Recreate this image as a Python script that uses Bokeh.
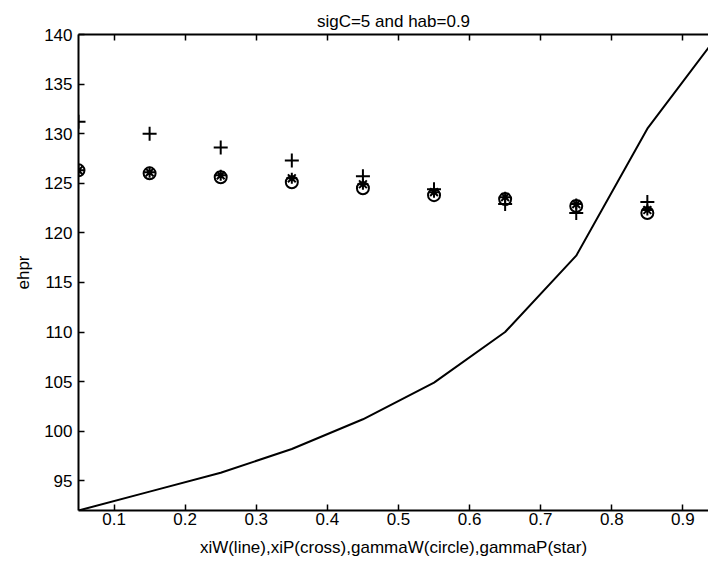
from bokeh.plotting import figure
from bokeh.models import Range1d, LinearAxis, FixedTicker, CustomJSTickFormatter
from bokeh.embed import file_html
from bokeh.resources import INLINE

# data
x_line = [0.05, 0.15, 0.25, 0.35, 0.45, 0.55, 0.65, 0.75, 0.85, 0.95]
xiW = [92.0, 93.9, 95.8, 98.2, 101.2, 104.9, 110.0, 117.7, 130.5, 140.0]
x_pts = [0.05, 0.15, 0.25, 0.35, 0.45, 0.55, 0.65, 0.75, 0.85]
xiP = [131.2, 130.0, 128.6, 127.3, 125.7, 124.4, 122.9, 122.0, 123.1]
gammaW = [126.3, 126.0, 125.6, 125.1, 124.5, 123.8, 123.4, 122.7, 122.0]
gammaP = [126.3, 126.1, 125.8, 125.5, 124.9, 124.1, 123.6, 122.9, 122.3]
x_ticks = [0.1, 0.2, 0.3, 0.4, 0.5, 0.6, 0.7, 0.8, 0.9]
y_ticks = [95, 100, 105, 110, 115, 120, 125, 130, 135, 140]

FONT = "Liberation Sans"
FS = "17px"

p = figure(width=708, height=563, output_backend="svg", toolbar_location=None,
           x_range=Range1d(0.05, 0.936), y_range=Range1d(92, 140),
           title="sigC=5 and hab=0.9",
           min_border_left=78, min_border_right=0, min_border_top=34, min_border_bottom=53)
p.outline_line_color = None
p.grid.visible = False
p.background_fill_color = "white"
p.border_fill_color = "white"

p.title.align = "center"
p.title.vertical_align = "top"
p.title.text_font = FONT
p.title.text_font_size = FS
p.title.text_font_style = "normal"
p.title.text_color = "black"
p.title.standoff = 4

for ax, ticks in ((p.xaxis[0], x_ticks), (p.yaxis[0], y_ticks)):
    ax.ticker = FixedTicker(ticks=ticks)
    ax.major_tick_in = 6
    ax.major_tick_out = 0
    ax.minor_tick_in = 0
    ax.minor_tick_out = 0
    ax.axis_line_width = 2
    ax.axis_line_color = "black"
    ax.major_tick_line_width = 1.5
    ax.major_tick_line_color = "black"
    ax.major_label_text_font = FONT
    ax.major_label_text_font_size = FS
    ax.major_label_text_color = "black"
    ax.axis_label_text_font = FONT
    ax.axis_label_text_font_size = FS
    ax.axis_label_text_font_style = "normal"
    ax.axis_label_text_color = "black"

p.xaxis.major_label_standoff = 2
p.yaxis.major_label_standoff = 6
p.xaxis.axis_label = "xiW(line),xiP(cross),gammaW(circle),gammaP(star)"
p.yaxis.axis_label = "ehpr"
p.xaxis.axis_label_standoff = 10
p.yaxis.axis_label_standoff = 8

top = LinearAxis(ticker=FixedTicker(ticks=x_ticks),
                 formatter=CustomJSTickFormatter(code="return ''"))
top.major_tick_in = 6
top.major_tick_out = 0
top.minor_tick_in = 0
top.minor_tick_out = 0
top.axis_line_width = 2
top.axis_line_color = "black"
top.major_tick_line_width = 1.5
top.major_tick_line_color = "black"
top.major_label_standoff = 0
p.add_layout(top, "above")

p.line(x_line, xiW, line_color="black", line_width=2)
p.scatter(x_pts, xiP, marker="cross", size=14, line_color="black", line_width=2)
p.scatter(x_pts, gammaW, marker="circle", size=12, fill_color=None, line_color="black", line_width=2)
p.scatter(x_pts, gammaP, marker="asterisk", size=11, line_color="black", line_width=2)

open("out.html", "w").write(file_html(p, INLINE))
